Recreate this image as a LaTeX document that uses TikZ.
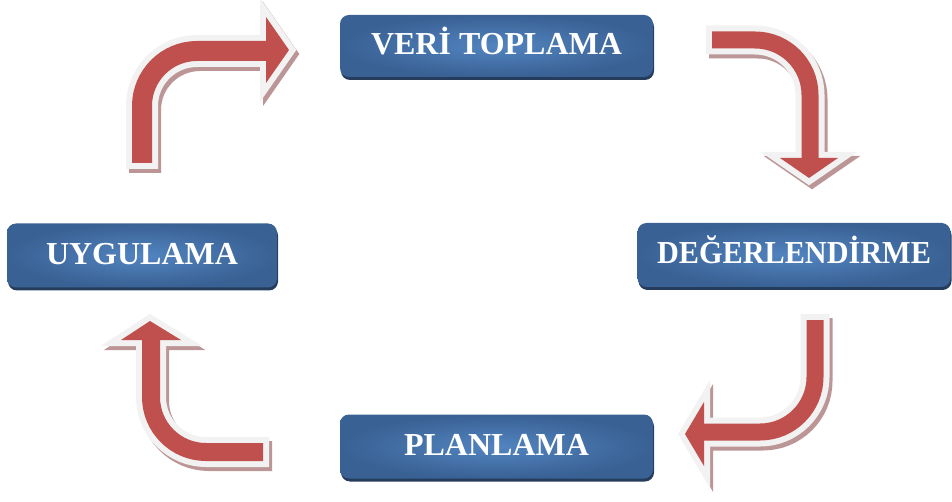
\documentclass[tikz,border=0pt]{standalone}
\usepackage{fontspec}
\setmainfont{Liberation Serif}
\usetikzlibrary{shadows}
\definecolor{boxin}{RGB}{82,132,192}
\definecolor{boxout}{RGB}{57,97,148}
\definecolor{boxsh}{RGB}{38,60,92}
\definecolor{arrred}{RGB}{192,80,77}
\definecolor{arrrim}{RGB}{242,242,242}
\definecolor{arrsh}{RGB}{188,150,150}
\newcommand\cyclearrow[7]{% tail, corner, base, headL, tip, headR, shaft width
  \begin{scope}[transform canvas={shift={(3pt,-4pt)}}]
    \draw[arrsh, line width=#7+12pt, rounded corners=55pt, shorten <=-6pt] (#1) -- (#2) -- (#3);
    \filldraw[arrsh, line width=12pt, line join=miter] (#4) -- (#5) -- (#6) -- cycle;
  \end{scope}
  \draw[arrrim, line width=#7+12pt, rounded corners=55pt, shorten <=-6pt] (#1) -- (#2) -- (#3);
  \filldraw[arrrim, line width=12pt, line join=miter] (#4) -- (#5) -- (#6) -- cycle;
  \draw[arrred, line width=#7, rounded corners=55pt] (#1) -- (#2) -- (#3);
  \fill[arrred] (#4) -- (#5) -- (#6) -- cycle;
}
\tikzset{
  stage/.style={rounded corners=9pt, inner sep=0pt, inner color=boxin, outer color=boxout,
    text=white, font=\bfseries\fontsize{32}{36}\selectfont, text height=21.5pt, text depth=4pt,
    drop shadow={shadow xshift=1pt, shadow yshift=-3pt, fill=boxsh, opacity=1}},
}
\begin{document}
\begin{tikzpicture}[x=1pt,y=-1pt]
\useasboundingbox (0,0) rectangle (952,502);
% boxes
\node[stage, minimum width=313pt, minimum height=62pt] (vt) at (496.5,46) {VERİ TOPLAMA};
\node[stage, minimum width=313pt, minimum height=64pt] (de) at (794,255) {\scalebox{0.945}[1]{DEĞERLENDİRME}};
\node[stage, minimum width=270pt, minimum height=64pt] (uy) at (142,255.5) {UYGULAMA};
\node[stage, minimum width=313pt, minimum height=64pt] (pl) at (496.5,446.5) {PLANLAMA};
% arrow coordinates
\coordinate (t1) at (142,163); \coordinate (c1) at (142,51); \coordinate (b1) at (266,51);
\coordinate (hl1) at (266,17); \coordinate (tp1) at (289,50); \coordinate (hr1) at (266,83);
\coordinate (t2) at (712,40); \coordinate (c2) at (810,40); \coordinate (b2) at (810,158);
\coordinate (hl2) at (780,158); \coordinate (tp2) at (809,178); \coordinate (hr2) at (838,158);
\coordinate (t3) at (815,320); \coordinate (c3) at (815,432); \coordinate (b3) at (704,432);
\coordinate (hl3) at (704,402); \coordinate (tp3) at (685,434); \coordinate (hr3) at (704,466);
\coordinate (t4) at (263,452); \coordinate (c4) at (151,452); \coordinate (b4) at (151,340);
\coordinate (hl4) at (121,340); \coordinate (tp4) at (150,321); \coordinate (hr4) at (181,340);
\cyclearrow{t1}{c1}{b1}{hl1}{tp1}{hr1}{20pt}
\cyclearrow{t2}{c2}{b2}{hl2}{tp2}{hr2}{17pt}
\cyclearrow{t3}{c3}{b3}{hl3}{tp3}{hr3}{17pt}
\cyclearrow{t4}{c4}{b4}{hl4}{tp4}{hr4}{18pt}
\end{tikzpicture}
\end{document}
